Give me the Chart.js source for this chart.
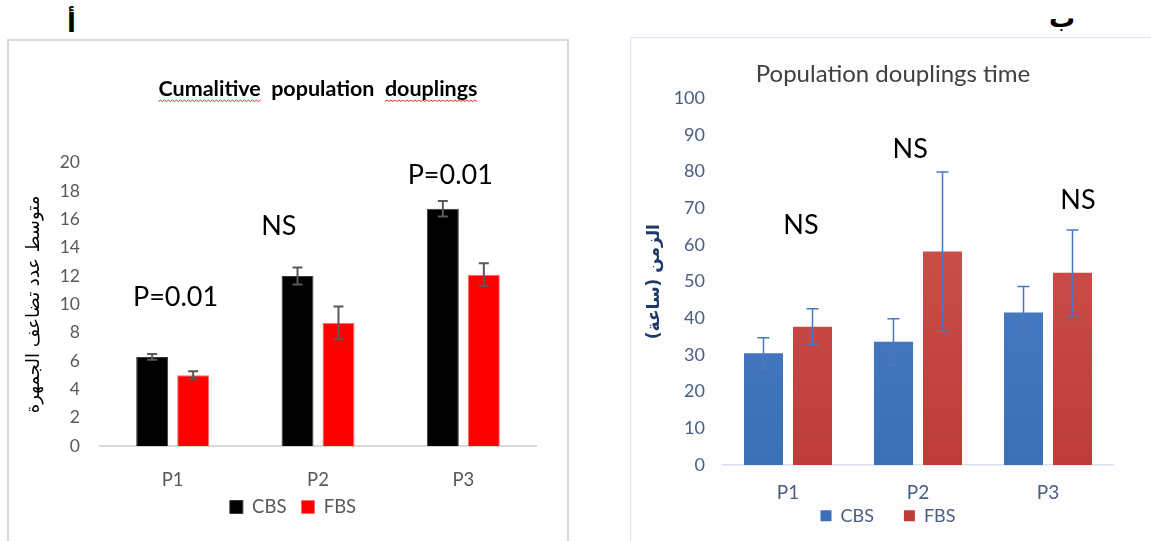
<!DOCTYPE html>
<html><head><meta charset="utf-8">
<script src="https://cdn.jsdelivr.net/npm/chart.js@4"></script>
<style>
html,body{margin:0;padding:0;background:#fff;width:1151px;height:541px;overflow:hidden;position:relative}
#panelA{position:absolute;left:7px;top:39px;width:562px;height:520px;border:2px solid #d9d9d9;box-sizing:border-box}
#panelB{position:absolute;left:630px;top:37px;width:540px;height:520px;border:1px solid #dbe5f1;background:#fdfdfe;box-sizing:border-box}
#cA{position:absolute;left:8px;top:40px}
#cB{position:absolute;left:631px;top:38px}
.lbl{position:absolute;font-family:'DejaVu Sans',sans-serif;font-weight:bold;color:#000;line-height:1;z-index:5}
</style></head>
<body>
<div id="panelA"></div>
<div id="panelB"></div>
<canvas id="cA" width="560" height="501"></canvas>
<canvas id="cB" width="520" height="560"></canvas>
<div class="lbl" style="left:67px;top:10px;font-size:26px">أ</div>
<div class="lbl" style="left:1049px;top:5px;font-size:26px">ب</div>
<script>
// ---------- data ----------
const categories = ['P1', 'P2', 'P3'];
const seriesNames = ['CBS', 'FBS'];
// Chart A: cumulative population doublings
const cpdCBS = [6.3, 12.0, 16.75];
const cpdCBSErr = [0.2, 0.6, 0.55];
const cpdFBS = [5.0, 8.7, 12.1];
const cpdFBSErr = [0.28, 1.15, 0.8];
const cpdNotes = ['P=0.01', 'NS', 'P=0.01'];
const cpdNoteValues = [10.5, 15.5, 19.1];
// Chart B: population doubling time (hours)
const pdtCBS = [30.5, 33.6, 41.6];
const pdtCBSErr = [4.2, 6.3, 7.1];
const pdtFBS = [37.7, 58.2, 52.4];
const pdtFBSErr = [4.9, 21.7, 11.7];
const pdtNotes = ['NS', 'NS', 'NS'];
const pdtNoteValues = [65.4, 86.1, 72.3];

const FONT = 'Lato, "DejaVu Sans", sans-serif';

// ---------- plugins ----------
const errorBars = {
  id: 'errorBars',
  afterDatasetsDraw(chart, args, opts) {
    const ctx = chart.ctx, ys = chart.scales.y;
    chart.data.datasets.forEach((ds, di) => {
      if (!ds.errors) return;
      const meta = chart.getDatasetMeta(di);
      meta.data.forEach((bar, i) => {
        const v = ds.data[i], e = ds.errors[i];
        const yt = ys.getPixelForValue(v + e), yb = ys.getPixelForValue(v - e);
        const h = opts.cap / 2;
        ctx.save();
        ctx.strokeStyle = opts.color; ctx.lineWidth = opts.width;
        ctx.beginPath();
        ctx.moveTo(bar.x, yt); ctx.lineTo(bar.x, yb);
        ctx.moveTo(bar.x - h, yt); ctx.lineTo(bar.x + h, yt);
        ctx.moveTo(bar.x - h, yb); ctx.lineTo(bar.x + h, yb);
        ctx.stroke(); ctx.restore();
      });
    });
  }
};

const notes = {
  id: 'notes',
  afterDraw(chart, args, opts) {
    const ctx = chart.ctx, xs = chart.scales.x, ys = chart.scales.y;
    ctx.save();
    ctx.font = opts.font; ctx.fillStyle = opts.color;
    ctx.textAlign = 'center'; ctx.textBaseline = 'middle';
    opts.texts.forEach((t, i) => {
      const x = xs.getPixelForValue(i + opts.dx[i]);
      const y = ys.getPixelForValue(opts.values[i]);
      ctx.fillText(t, x, y);
    });
    ctx.restore();
  }
};

const sheetTitle = {
  id: 'sheetTitle',
  afterDraw(chart, args, opts) {
    const ctx = chart.ctx;
    ctx.save();
    ctx.font = opts.font; ctx.fillStyle = opts.color;
    ctx.textAlign = 'left'; ctx.textBaseline = 'alphabetic';
    const w = ctx.measureText(opts.text).width;
    const x0 = opts.x - w / 2;
    ctx.fillText(opts.text, x0, opts.y);
    // spell-check squiggles
    (opts.squiggle || []).forEach(word => {
      const idx = opts.text.indexOf(word);
      if (idx < 0) return;
      const sx = x0 + ctx.measureText(opts.text.slice(0, idx)).width;
      const ww = ctx.measureText(word).width;
      const sy = opts.y + 6;
      ctx.strokeStyle = '#e8262a'; ctx.lineWidth = 1;
      ctx.beginPath();
      let up = true;
      ctx.moveTo(sx, sy);
      for (let x = sx + 2; x <= sx + ww; x += 2) { ctx.lineTo(x, up ? sy - 1.5 : sy); up = !up; }
      ctx.stroke();
    });
    ctx.restore();
  }
};

// move the legend box to the requested item centre (after layout)
const legendPlace = {
  id: 'legendPlace',
  afterLayout(chart, args, opts) {
    const lg = chart.legend;
    if (!lg) return;
    const lab = lg.options.labels;
    const fs = (lab.font && lab.font.size) || 12;
    const dx = opts.centerX - (lg.left + lg.right) / 2;
    const dy = opts.centerY - (lg.top + lab.padding + fs / 2);
    lg.left += dx; lg.right += dx; lg.top += dy; lg.bottom += dy;
  }
};

// ---------- chart A ----------
new Chart(document.getElementById('cA'), {
  type: 'bar',
  data: {
    labels: categories,
    datasets: [
      { label: seriesNames[0], data: cpdCBS, errors: cpdCBSErr, backgroundColor: '#000000', borderColor: '#3a3a3a', borderWidth: 1 },
      { label: seriesNames[1], data: cpdFBS, errors: cpdFBSErr, backgroundColor: '#ff0000', borderColor: '#ff6a6a', borderWidth: 1 }
    ]
  },
  options: {
    responsive: false, animation: false, devicePixelRatio: 1,
    layout: { padding: { left: 8, right: 32, top: 122.7, bottom: 1.3 } },
    datasets: { bar: { categoryPercentage: 0.564, barPercentage: 0.78 } },
    scales: {
      x: {
        grid: { display: false, drawTicks: false },
        border: { display: true, color: '#d9d9d9', width: 2 },
        ticks: { color: '#595959', font: { family: FONT, size: 18.5 }, padding: 22.5 },
        afterFit: s => { s.height = 50; }
      },
      y: {
        min: 0, max: 20,
        grid: { display: false, drawTicks: false },
        border: { display: false },
        ticks: { stepSize: 2, color: '#595959', font: { family: FONT, size: 17.5 }, padding: 20 },
        title: { display: true, text: 'متوسط عدد تضاعف الجمهرة', color: '#000', font: { family: '"DejaVu Sans", sans-serif', size: 18 }, padding: { top: 8, bottom: 0 } },
        afterFit: s => { s.width = 84; }
      }
    },
    plugins: {
      legend: { position: 'bottom', labels: { boxWidth: 13, boxHeight: 13, padding: 15, color: '#595959', font: { family: FONT, size: 18.5 } } },
      tooltip: { enabled: false },
      legendPlace: { centerX: 285, centerY: 467 },
      errorBars: { color: '#595959', width: 2, cap: 10 },
      notes: { texts: cpdNotes, values: cpdNoteValues, dx: [0.02, -0.27, -0.09], font: '27px ' + FONT, color: '#000' },
      sheetTitle: { text: 'Cumalitive  population  douplings', x: 310, y: 55.5, font: 'bold 21.5px ' + FONT, color: '#000', squiggle: ['Cumalitive', 'douplings'] }
    }
  },
  plugins: [errorBars, notes, sheetTitle, legendPlace]
});

// ---------- chart B ----------
function grad(ctxArg, top, bottom) {
  const chart = ctxArg.chart, area = chart.chartArea;
  if (!area) return bottom;
  const g = chart.ctx.createLinearGradient(0, area.top, 0, area.bottom);
  g.addColorStop(0, top); g.addColorStop(1, bottom);
  return g;
}
new Chart(document.getElementById('cB'), {
  type: 'bar',
  data: {
    labels: categories,
    datasets: [
      { label: seriesNames[0], data: pdtCBS, errors: pdtCBSErr, backgroundColor: c => grad(c, '#4f83cc', '#3d6fb7'), borderWidth: 0 },
      { label: seriesNames[1], data: pdtFBS, errors: pdtFBSErr, backgroundColor: c => grad(c, '#cf5a56', '#be3c38'), borderWidth: 0 }
    ]
  },
  options: {
    responsive: false, animation: false, devicePixelRatio: 1,
    layout: { padding: { left: 4, right: 38, top: 60.3, bottom: 30 } },
    datasets: { bar: { categoryPercentage: 0.754, barPercentage: 0.796 } },
    scales: {
      x: {
        grid: { display: false, drawTicks: false },
        border: { display: true, color: '#d9e1ec', width: 1.5 },
        ticks: { color: '#4a5e82', font: { family: FONT, size: 19 }, padding: 16.6 },
        afterFit: s => { s.height = 45; }
      },
      y: {
        min: 0, max: 100,
        grid: { display: false, drawTicks: false },
        border: { display: false },
        ticks: { stepSize: 10, color: '#4a5e82', font: { family: FONT, size: 18 }, padding: 18 },
        title: { display: true, text: 'الزمن (ساعة)', color: '#1f3864', font: { family: '"DejaVu Sans", sans-serif', size: 17, weight: 'bold' }, padding: { top: 9.8, bottom: 0 } },
        afterFit: s => { s.width = 88; }
      }
    },
    plugins: {
      legend: { position: 'bottom', labels: { boxWidth: 11, boxHeight: 11, padding: 30, color: '#4a5e82', font: { family: FONT, size: 18 } } },
      tooltip: { enabled: false },
      legendPlace: { centerX: 257, centerY: 477.7 },
      errorBars: { color: '#4a78c0', width: 1.5, cap: 12 },
      notes: { texts: pdtNotes, values: pdtNoteValues, dx: [0.1, -0.06, 0.23], font: '27px ' + FONT, color: '#000' },
      sheetTitle: { text: 'Population douplings time', x: 262, y: 44, font: '24px ' + FONT, color: '#404040' }
    }
  },
  plugins: [errorBars, notes, sheetTitle, legendPlace]
});
</script>
</body></html>
